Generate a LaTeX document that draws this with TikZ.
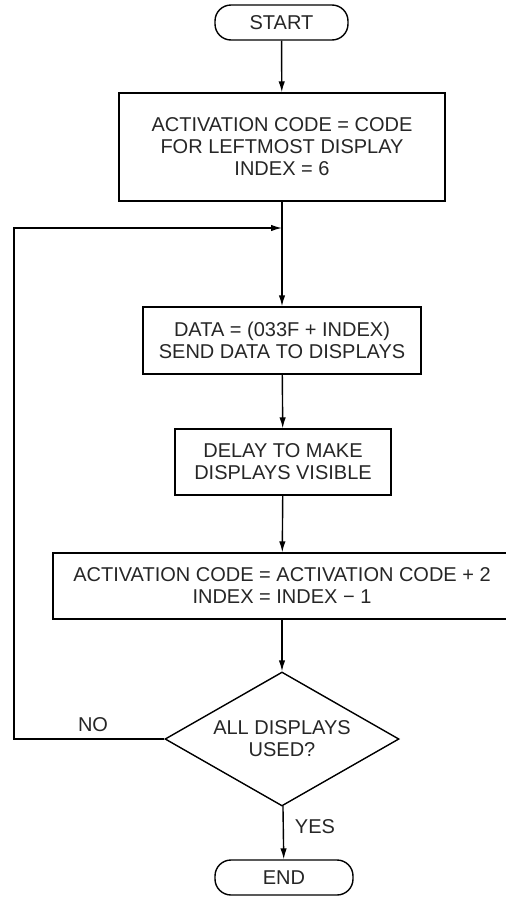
\documentclass[tikz,border=0pt]{standalone}
\usepackage{fontspec}
\setmainfont{Liberation Sans}
\usetikzlibrary{shapes.geometric,arrows.meta}

\begin{document}
\begin{tikzpicture}[x=1pt,y=-1pt,
  line width=1.4pt,
  every node/.style={font=\fontsize{20}{22}\selectfont, text=black!85},
  flow/.style={-{Latex[length=11pt,width=6.5pt]}},
  terminal/.style={draw, rounded corners=16pt, minimum height=35pt, inner sep=0pt},
  procbox/.style={draw, align=center, inner sep=0pt},
  decision/.style={draw, diamond, align=center, inner sep=0pt, aspect=1.75,
                   minimum width=234pt, minimum height=134pt}
]
\useasboundingbox (0,0) rectangle (506,900);

% terminals
\node[terminal, minimum width=133pt] (start) at (281.5,22.5) {START};
\node[terminal, minimum width=138pt] (stop) at (284,877.5) {END};

% process boxes
\node[procbox, minimum width=326pt, minimum height=108pt] (init) at (282,147)
  {ACTIVATION CODE = CODE\\FOR LEFTMOST DISPLAY\\INDEX = 6};
\coordinate (merge) at (282,228);
\node[procbox, minimum width=278pt, minimum height=67pt] (data) at (282,340.5)
  {DATA = (033F + INDEX)\\SEND DATA TO DISPLAYS};
\node[procbox, minimum width=216pt, minimum height=66pt] (delay) at (283,462)
  {DELAY TO MAKE\\DISPLAYS VISIBLE};
\node[procbox, minimum width=458pt, minimum height=66pt] (update) at (282,586)
  {ACTIVATION CODE = ACTIVATION CODE + 2\\INDEX = INDEX − 1};

% decision
\node[decision] (done) at (282,739) {ALL DISPLAYS\\USED?};
\coordinate (looptop) at (14,228);

% labels
\node (no) at (93,725) {NO};
\node (yes) at (315,827) {YES};

% connectors
\draw[flow] (start) -- (init);
\draw (init) -- (merge);
\draw[flow] (merge) -- (data);
\draw[flow] (data) -- (delay);
\draw[flow] (delay) -- (update);
\draw[flow] (update) -- (done);
\draw[flow] (done) -- (stop);
\draw[flow] (done.west) -| (looptop) -- (merge);
\end{tikzpicture}
\end{document}
